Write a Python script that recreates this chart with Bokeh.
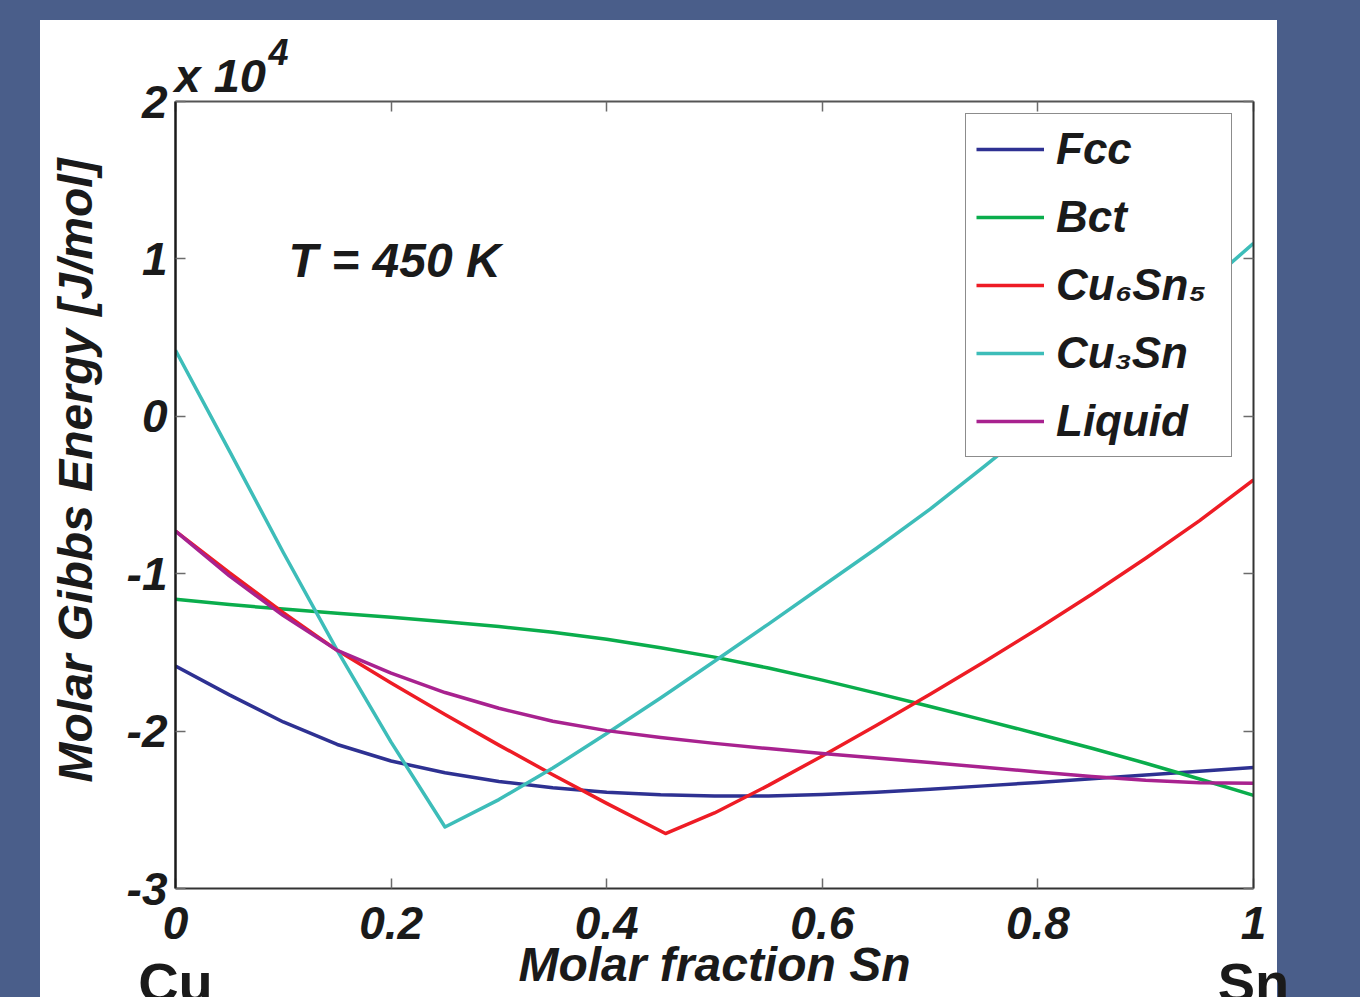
import math
from bokeh.plotting import figure
from bokeh.models import Range1d, LinearAxis, FixedTicker, Label, Title
from bokeh.embed import file_html
from bokeh.resources import INLINE

# ---------------- data ----------------
x_grid = [0.0, 0.05, 0.1, 0.15, 0.2, 0.25, 0.3, 0.35, 0.4, 0.45, 0.5,
          0.55, 0.6, 0.65, 0.7, 0.75, 0.8, 0.85, 0.9, 0.95, 1.0]

fcc = [-15860, -17700, -19420, -20850, -21900, -22650, -23200, -23600, -23880, -24050, -24130,
       -24120, -24030, -23880, -23690, -23480, -23260, -23030, -22790, -22550, -22320]

bct = [-11630, -11960, -12250, -12510, -12770, -13050, -13360, -13720, -14170, -14700, -15300,
       -15990, -16760, -17590, -18440, -19300, -20180, -21090, -22040, -23040, -24080]

x_cu6sn5 = [0.0, 0.05, 0.1, 0.15, 0.2, 0.25, 0.3, 0.35, 0.4, 0.4545, 0.5,
            0.55, 0.6, 0.65, 0.7, 0.75, 0.8, 0.85, 0.9, 0.95, 1.0]
cu6sn5 = [-7290, -9940, -12470, -14870, -16950, -18950, -20890, -22770, -24590, -26510, -25200,
          -23450, -21580, -19650, -17660, -15610, -13500, -11310, -9020, -6630, -4040]

cu3sn = [4190, -2200, -8650, -14870, -20700, -26090, -24350, -22350, -20150, -17900, -15560,
         -13200, -10800, -8400, -5900, -3200, -450, 2350, 5150, 8000, 10990]

liquid = [-7290, -10140, -12660, -14870, -16320, -17550, -18550, -19370, -19970, -20410, -20780,
          -21110, -21420, -21710, -22000, -22300, -22600, -22880, -23120, -23280, -23320]

series_names = ["Fcc", "Bct", "Cu\u2086Sn\u2085", "Cu\u2083Sn", "Liquid"]
series_colors = ["#2e3192", "#0aad4c", "#ee1c25", "#3dbdb9", "#a8228f"]

x_ticks = [0, 0.2, 0.4, 0.6, 0.8, 1]
x_tick_labels = ["0", "0.2", "0.4", "0.6", "0.8", "1"]
y_ticks = [-30000, -20000, -10000, 0, 10000, 20000]
y_tick_labels = ["-3", "-2", "-1", "0", "1", "2"]
end_ticks = [0, 1]
end_labels = ["Cu", "Sn"]

# ---------------- style ----------------
BG = "#4a5e8a"
FONT = "Liberation Sans"
INK = "#1a1a1a"

p = figure(width=1360, height=997,
           x_range=Range1d(0, 1), y_range=Range1d(-30000, 20000),
           output_backend="svg", toolbar_location=None,
           x_axis_location=None, y_axis_location=None, title_location=None,
           min_border_left=175, min_border_right=107,
           min_border_top=101, min_border_bottom=109,
           background_fill_color="white", border_fill_alpha=0.0,
           outline_line_color=None)
p.grid.visible = False
# slide look: blue page with a white panel behind the chart
p.styles = {"background": "linear-gradient(#ffffff,#ffffff) 40px 20px / 1237px 977px no-repeat, " + BG}


def make_axis(ticks, labels, show, line_color, line_width):
    return LinearAxis(ticker=FixedTicker(ticks=ticks),
                      major_label_overrides={t: l for t, l in zip(ticks, labels)},
                      major_tick_in=10, major_tick_out=0,
                      minor_tick_in=0, minor_tick_out=0,
                      major_tick_line_color="#6b6b6b", major_tick_line_width=1.5,
                      axis_line_color=line_color, axis_line_width=line_width,
                      major_label_text_font=FONT,
                      major_label_text_font_size="46px" if show else "0px",
                      major_label_text_font_style="bold italic",
                      major_label_text_color=INK if show else None,
                      major_label_standoff=0)

ax_bottom = make_axis(x_ticks, x_tick_labels, True, "#333333", 2)
ax_bottom.major_label_standoff = 18
ax_left = make_axis(y_ticks, y_tick_labels, True, "#1a1a1a", 2.5)
ax_left.major_label_standoff = 8
ax_top = make_axis(x_ticks, x_tick_labels, False, "#555555", 2)
ax_right = make_axis(y_ticks, y_tick_labels, False, "#333333", 2)

# composition end labels + x axis title
ax_ends = LinearAxis(ticker=FixedTicker(ticks=end_ticks),
                     major_label_overrides={t: l for t, l in zip(end_ticks, end_labels)},
                     major_tick_in=0, major_tick_out=0, minor_tick_in=0, minor_tick_out=0,
                     axis_line_color=None,
                     major_label_standoff=9,
                     major_label_text_font=FONT, major_label_text_font_size="56px",
                     major_label_text_font_style="bold", major_label_text_color=INK,
                     axis_label="Molar fraction Sn", axis_label_standoff=-79,
                     axis_label_text_font=FONT, axis_label_text_font_size="48px",
                     axis_label_text_font_style="bold italic", axis_label_text_color=INK)

p.add_layout(ax_bottom, "below")
p.add_layout(ax_ends, "below")
p.add_layout(ax_left, "left")
p.add_layout(ax_top, "above")
p.add_layout(ax_right, "right")

# y axis title
p.add_layout(Title(text="Molar Gibbs Energy [J/mol]", align="left", offset=106,
                   standoff=43, vertical_align="bottom",
                   text_font=FONT, text_font_size="48px", text_font_style="bold italic",
                   text_color=INK), "left")
# exponent  "x 10^4"
p.add_layout(Title(text="x 10", align="left", offset=-1, standoff=0,
                   vertical_align="bottom",
                   text_font=FONT, text_font_size="47px", text_font_style="bold italic",
                   text_color=INK), "above")
p.add_layout(Title(text="4", align="left", offset=93, standoff=-37,
                   vertical_align="bottom",
                   text_font=FONT, text_font_size="36px", text_font_style="bold italic",
                   text_color=INK), "above")

ys = [fcc, bct, cu6sn5, cu3sn, liquid]
xs = [x_grid, x_grid, x_cu6sn5, x_grid, x_grid]
for xv, yv, name, col in zip(xs, ys, series_names, series_colors):
    p.line(xv, yv, line_width=3.5, line_color=col, legend_label=name,
           line_join="round")

leg = p.legend[0]
leg.location = (790, 431)
leg.label_text_font = FONT
leg.label_text_font_size = "44px"
leg.label_text_font_style = "bold italic"
leg.label_text_color = INK
leg.glyph_width = 68
leg.glyph_height = 50
leg.label_height = 50
leg.label_width = 165
leg.label_standoff = 12
leg.spacing = 18
leg.padding = 10
leg.margin = 0
leg.border_line_color = "#1a1a1a"
leg.border_line_width = 1.5
leg.background_fill_color = "white"
leg.background_fill_alpha = 1.0

# in-plot annotation (data coordinates)
p.add_layout(Label(x=0.1048, y=9910, text="T = 450 K", text_font=FONT,
                   text_font_size="48px", text_font_style="bold italic",
                   text_color=INK, text_align="left", text_baseline="alphabetic"))

open("out.html", "w").write(file_html(p, INLINE, title="Molar Gibbs Energy"))
